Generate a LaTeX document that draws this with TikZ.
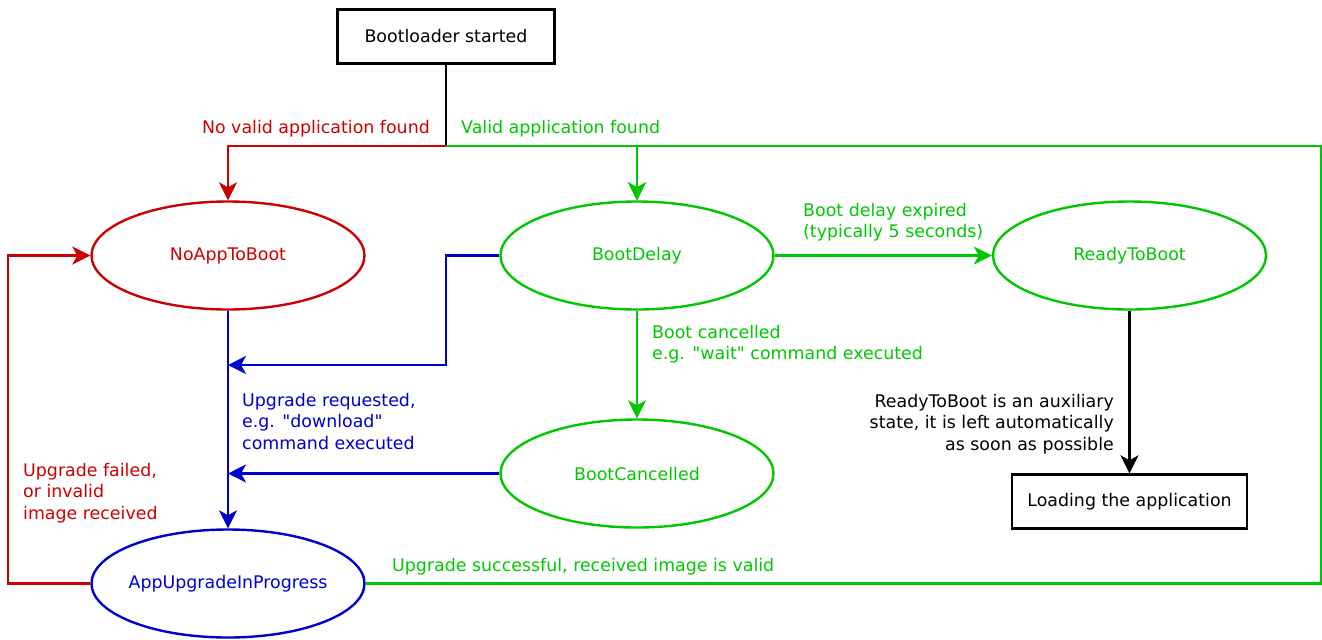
\documentclass[tikz,border=0pt]{standalone}
\usepackage{fontspec}
\setmainfont{DejaVu Sans}[Ligatures=TeXOff]
\usepackage{tikz}
\usetikzlibrary{arrows.meta,shapes.geometric}
\definecolor{StateRed}{HTML}{CC0000}
\definecolor{StateGreen}{HTML}{00C800}
\definecolor{StateBlue}{HTML}{0000CC}
\definecolor{StateInk}{HTML}{000000}

\begin{document}
\begin{tikzpicture}[x=0.5pt,y=-0.5pt,>={Stealth[length=9pt,width=9pt,inset=2.5pt]},
  font=\fontsize{8.7}{10.85}\selectfont,line width=1.2pt,
  state/.style={ellipse,draw,line width=1.2pt,minimum width=136.5pt,minimum height=54pt,inner sep=-4pt},
  stepbox/.style={rectangle,draw,StateInk,line width=1.2pt,minimum width=108.5pt,minimum height=27pt},
  note/.style={inner sep=0pt,align=left}]
  \useasboundingbox (0,0) rectangle (1322,639);
  % states and boxes
  \node[stepbox] (boot) at (446,36.5) {Bootloader started};
  \node[state,StateRed] (noapp) at (228,255.5) {NoAppToBoot};
  \node[state,StateGreen] (delay) at (637,255.5) {BootDelay};
  \node[state,StateGreen] (ready) at (1129.5,255.5) {ReadyToBoot};
  \node[state,StateGreen] (cancel) at (637,473.5) {BootCancelled};
  \node[state,StateBlue] (upgr) at (228,583.5) {AppUpgradeInProgress};
  \node[stepbox,minimum width=117.5pt] (load) at (1129.5,501.5) {Loading the application};
  % bends of the connectors
  \coordinate (split) at (446,146);
  \coordinate (rim) at (1321,146);
  \coordinate (blueknee) at (446,365);
  \coordinate (leftrim) at (8,583.5);
  % connectors
  \draw[StateInk] (boot) -- (split);
  \draw[->,StateRed] (split) -| (noapp);
  \draw[->,StateGreen] (split) -| (delay);
  \draw[->,StateGreen] (upgr) -| (rim) -| (delay);
  \draw[->,StateGreen] (delay) -- (cancel);
  \draw[->,StateGreen] (delay) -- (ready);
  \draw[->,StateInk] (ready) -- (load);
  \draw[->,StateBlue] (noapp) -- (upgr);
  \draw[->,StateBlue] (delay) -| (blueknee) -- (noapp |- blueknee);
  \draw[->,StateBlue] (cancel) -- (noapp |- cancel);
  \draw[->,StateRed] (upgr) -- (leftrim) |- (noapp);
  % labels (base is the last line)
  \node[note,StateRed,anchor=base east] (nofound) at (431,133) {No valid application found};
  \node[note,StateGreen,anchor=base west] (found) at (460,133) {Valid application found};
  \node[note,StateGreen,anchor=base west] (expired) at (802,237.7) {Boot delay expired\\(typically 5 seconds)};
  \node[note,StateGreen,anchor=base west] (cancelled) at (651,359.7) {Boot cancelled\\e.g. "wait" command executed};
  \node[note,StateBlue,anchor=base west] (requested) at (241,449.4) {Upgrade requested,\\e.g. "download"\\command executed};
  \node[note,StateRed,anchor=base west] (failed) at (22,519.4) {Upgrade failed,\\or invalid\\image received};
  \node[note,StateGreen,anchor=base west] (success) at (391,571) {Upgrade successful, received image is valid};
  \node[note,StateInk,align=right,anchor=base east] (auxnote) at (1115,450.4) {ReadyToBoot is an auxiliary\\state, it is left automatically\\as soon as possible};
\end{tikzpicture}
\end{document}
